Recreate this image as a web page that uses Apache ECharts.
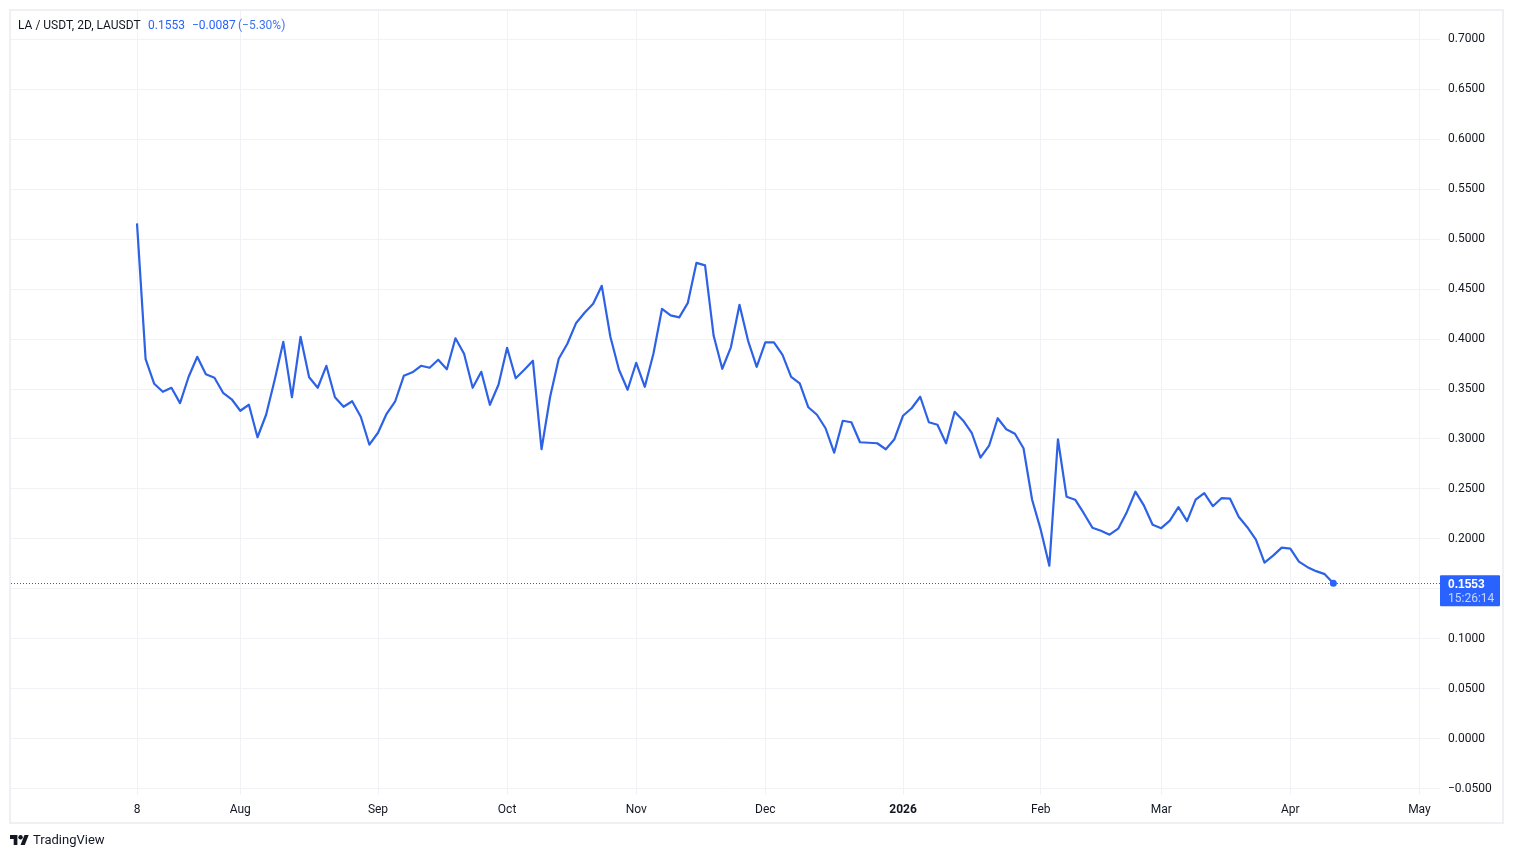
<!DOCTYPE html>
<html><head><meta charset="utf-8">
<style>html,body{margin:0;padding:0;background:#fff}#c{width:1514px;height:858px}</style>
<script src="https://cdn.jsdelivr.net/npm/echarts@6/dist/echarts.min.js"></script>
</head><body><div id="c"></div>
<script>
const closes=[0.5155,0.3797,0.355,0.347,0.351,0.3356,0.362,0.382,0.3645,0.361,0.346,0.3395,0.328,0.334,0.3015,0.324,0.359,0.397,0.3415,0.402,
0.3615,0.351,0.373,0.3415,0.332,0.3375,0.322,0.294,0.306,0.325,0.3375,0.363,0.3665,0.373,0.371,0.379,0.3695,0.4005,0.385,0.351,
0.367,0.334,0.354,0.391,0.3605,0.369,0.378,0.2895,0.342,0.38,0.395,0.4155,0.426,0.435,0.453,0.402,0.369,0.349,0.376,0.352,
0.385,0.43,0.4235,0.4215,0.436,0.476,0.4735,0.403,0.37,0.3915,0.434,0.398,0.372,0.3965,0.3965,0.384,0.362,0.3555,0.3315,0.324,
0.3105,0.286,0.318,0.3165,0.2965,0.296,0.2955,0.2895,0.2995,0.323,0.3305,0.342,0.3165,0.314,0.2955,0.327,0.318,0.3055,0.281,0.293,
0.3205,0.3095,0.305,0.2905,0.239,0.209,0.173,0.2995,0.242,0.239,0.2255,0.211,0.208,0.204,0.21,0.2265,0.247,0.233,0.214,0.2105,
0.218,0.2315,0.2175,0.239,0.2455,0.2325,0.2405,0.24,0.222,0.2115,0.199,0.176,0.183,0.191,0.19,0.177,0.1715,0.1675,0.1645,0.1553];
const timeTickBars=[0,12,28,43,58,73,89,105,119,134,149];
const timeTickLabels=['8','Aug','Sep','Oct','Nov','Dec','2026','Feb','Mar','Apr','May'];
const priceTicks=[-0.05,0,0.05,0.1,0.15,0.2,0.25,0.3,0.35,0.4,0.45,0.5,0.55,0.6,0.65,0.7];
const lastPrice=0.1553, lastChange='\u22120.0087', lastPct='(\u22125.30%)', countdown='15:26:14';
const symbolText='LA / USDT, 2D, LAUSDT';

const FONT='Roboto, "Open Sans", sans-serif', BLUE='#2962ff', INK='#131722', GRID='#f0f2f6';
const chart=echarts.init(document.getElementById('c'),null,{renderer:'canvas'});
const seriesData=closes.map((v,i)=>[i,v]);
const lastBar=closes.length-1;
function txt(x,y,text,fill,extra){return {type:'text',silent:true,x,y,style:Object.assign({text,fill,font:'12px '+FONT,textVerticalAlign:'middle'},extra||{})};}
chart.setOption({
  animation:false,backgroundColor:'#fff',
  grid:{left:11,right:74,top:11,bottom:63,containLabel:false,show:false},
  xAxis:{type:'value',min:-14.64,max:151.39,
    axisLine:{show:false},
    axisTick:{show:false,customValues:timeTickBars},
    splitLine:{show:true,lineStyle:{color:GRID,width:1}},
    axisLabel:{customValues:timeTickBars,margin:9,color:INK,fontFamily:FONT,fontSize:12,
      formatter:v=>{const s=timeTickLabels[timeTickBars.indexOf(v)];return s==='2026'?'{b|'+s+'}':s;},
      rich:{b:{fontWeight:'bold',color:INK,fontFamily:FONT,fontSize:12}}}},
  yAxis:{type:'value',position:'right',min:-0.0565,max:0.72802,
    axisLine:{show:false},
    axisTick:{show:false,customValues:priceTicks},
    splitLine:{show:true,lineStyle:{color:GRID,width:1}},
    axisLabel:{customValues:priceTicks,margin:8,color:INK,fontFamily:FONT,fontSize:12,padding:[4,0,0,0],
      formatter:v=>v.toFixed(4).replace('-','\u2212')}},
  series:[{type:'line',data:seriesData,symbol:'none',smooth:false,
    lineStyle:{color:'#2d62e6',width:2.2,join:'round'},
    markLine:{silent:true,symbol:'none',precision:4,label:{show:false},
      lineStyle:{color:'#2a5fd8',type:[1,2],width:1},data:[{yAxis:lastPrice}]},
    markPoint:{silent:true,symbol:'circle',symbolSize:7,label:{show:false},itemStyle:{color:BLUE},
      data:[{coord:[lastBar,lastPrice]}]}}]
});
const tagY=chart.convertToPixel({yAxisIndex:0},lastPrice);
const LOGO={x:10,y:835,sx:19/36,sy:10/18,oy:4};
const lp=(pts)=>pts.map(p=>[LOGO.x+p[0]*LOGO.sx,LOGO.y+(p[1]-LOGO.oy)*LOGO.sy]);
chart.setOption({graphic:[
  {type:'rect',silent:true,z:-1,shape:{x:10,y:10,width:1493,height:813},style:{fill:'none',stroke:'#eef0f3',lineWidth:2}},
  txt(18,25.5,symbolText,INK),
  txt(148,25.5,lastPrice.toFixed(4),BLUE),
  txt(192,25.5,lastChange,BLUE),
  txt(238,25.5,lastPct,'#3f74f0'),
  {type:'rect',silent:true,z:10,shape:{x:1440,y:tagY-8,width:60,height:31,r:1},style:{fill:BLUE}},
  Object.assign(txt(1448,tagY+1.5,lastPrice.toFixed(4),'#fff',{fontWeight:'bold'}),{z:11}),
  Object.assign(txt(1448,tagY+15.5,countdown,'rgba(255,255,255,0.72)'),{z:11}),
  {type:'polygon',silent:true,shape:{points:lp([[0,4],[14,4],[14,22],[7,22],[7,11],[0,11]])},style:{fill:INK}},
  {type:'polygon',silent:true,shape:{points:lp([[27.5,4],[35.5,4],[28,22],[20,22]])},style:{fill:INK}},
  {type:'circle',silent:true,shape:{cx:LOGO.x+20*LOGO.sx,cy:LOGO.y+4*LOGO.sy,r:2.2},style:{fill:INK}},
  txt(33,841,'TradingView',INK,{font:'13px '+FONT})
]});
</script></body></html>
